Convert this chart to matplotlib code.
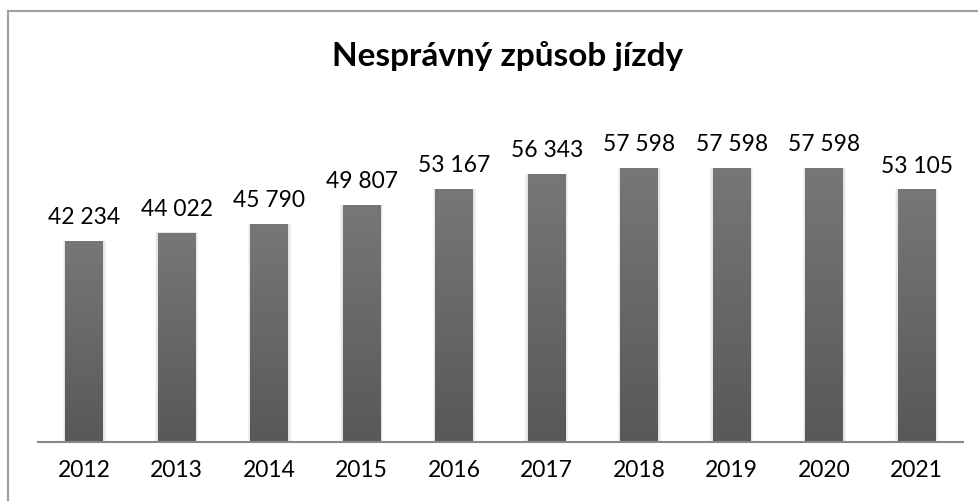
import numpy as np
import matplotlib.pyplot as plt
from matplotlib.patches import Rectangle
from matplotlib.colors import LinearSegmentedColormap

# data
roky = ['2012', '2013', '2014', '2015', '2016', '2017', '2018', '2019', '2020', '2021']
hodnoty = [42234, 44022, 45790, 49807, 53167, 56343, 57598, 57598, 57598, 53105]

plt.rcParams['font.family'] = ['Lato', 'DejaVu Sans']

fig = plt.figure(figsize=(9.79, 5.01), dpi=100)
W, H = 979, 501

# frame of the chart (only top and left edge visible in the crop)
fig.add_artist(plt.Line2D([8.5 / W, 8.5 / W], [0, 1 - 10.5 / H], color='#a0a0a0', lw=1.5))
fig.add_artist(plt.Line2D([8.5 / W, 1], [1 - 10.5 / H, 1 - 10.5 / H], color='#a0a0a0', lw=1.5))

ax = fig.add_axes([38 / W, (H - 442) / H, (963 - 38) / W, (442 - 109) / H])
x = np.arange(len(roky))
bw = 0.41
cmap = LinearSegmentedColormap.from_list('g', ['#585858', '#777777'])

# gradient bars with light shadow
grad = np.linspace(0, 1, 256).reshape(-1, 1)
for xi, v in zip(x, hodnoty):
    for k, a in [(0.05, 0.10), (0.03, 0.15)]:
        ax.add_patch(Rectangle((xi - bw / 2 - k * 0.6, 0), bw + k * 1.2, v + k * 900,
                               color='#9a9a9a', alpha=a, lw=0, zorder=1))
    im = ax.imshow(grad, cmap=cmap, origin='lower', aspect='auto',
                   extent=[xi - bw / 2, xi + bw / 2, 0, v], zorder=2)
    im.set_clip_path(Rectangle((xi - bw / 2, 0), bw, v, transform=ax.transData))
    ax.text(xi, v + 2700, f'{v:,}'.replace(',', ' '), ha='center', va='bottom',
            fontsize=16.5, color='#000000')

ax.set_xlim(-0.5, len(roky) - 0.5)
ax.set_ylim(0, 70000)
ax.set_xticks(x)
ax.set_xticklabels(roky, fontsize=16.5)
ax.tick_params(axis='x', length=0, pad=13)
ax.set_yticks([])
for s in ['top', 'right', 'left']:
    ax.spines[s].set_visible(False)
ax.spines['bottom'].set_color('#888888')
ax.spines['bottom'].set_linewidth(1.5)
ax.spines['bottom'].set_zorder(3)

fig.text(508 / W, 1 - 56 / H, 'Nesprávný způsob jízdy', ha='center', va='center',
         fontsize=24, fontweight='bold')

fig.savefig('out.png', dpi=100)
